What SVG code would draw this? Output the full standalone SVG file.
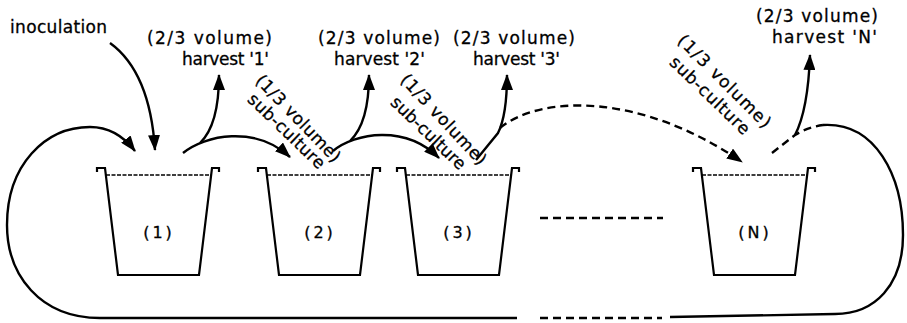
<svg xmlns="http://www.w3.org/2000/svg" width="907" height="323" viewBox="0 0 907 323">
<defs>
<style>
.ln{fill:none;stroke:#000;stroke-width:2.4}
.dash{stroke-dasharray:8 5}
.bk{fill:none;stroke:#000;stroke-width:2.2;stroke-linejoin:miter}
.liq{fill:none;stroke:#000;stroke-width:1.5;stroke-dasharray:4 1.5}
.t{font-family:"DejaVu Sans","Liberation Sans",sans-serif;font-size:17px;fill:#000;stroke:#000;stroke-width:0.3}
.lb{font-family:"DejaVu Sans","Liberation Sans",sans-serif;font-size:16px;fill:#000;stroke:#000;stroke-width:0.3;text-anchor:middle;letter-spacing:3px}
</style>
<marker id="ah" viewBox="0 0 16 12" refX="15" refY="6" markerWidth="16" markerHeight="12" markerUnits="userSpaceOnUse" orient="auto">
<path d="M0,0 L16,6 L0,12 z" fill="#000"/>
</marker>
<g id="beakerShape">
<path class="bk" d="M0,172 L0,168 L8,168 L21,275 L102,275 L115,168 L122,168 L122,172"/>
<path class="liq" d="M9,175 L114,175"/>
</g>
</defs>
<rect width="907" height="323" fill="#fff"/>

<g id="beaker1"><use href="#beakerShape" transform="translate(97,0)"/><text class="lb" x="159" y="238">(1)</text></g>
<g id="beaker2"><use href="#beakerShape" transform="translate(258,0)"/><text class="lb" x="320" y="238">(2)</text></g>
<g id="beaker3"><use href="#beakerShape" transform="translate(397,0)"/><text class="lb" x="459" y="238">(3)</text></g>
<g id="beakerN"><use href="#beakerShape" transform="translate(693,0)"/><text class="lb" x="755" y="238">(N)</text></g>

<g id="connectors">
<path class="ln" d="M517,318 L100,318 C40,318 7,275 7,225 C7,165 45,127 90,127 C110,127 125,138 135,151" marker-end="url(#ah)"/>
<path class="ln" d="M110,43 Q150,72 155,150" marker-end="url(#ah)"/>
<path class="ln" d="M183,153 C205,135 255,125 290,157" marker-end="url(#ah)"/>
<path class="ln" d="M200,143 Q219,125 219,75" marker-end="url(#ah)"/>
<path class="ln" d="M333,151 C355,133 405,124 439,158" marker-end="url(#ah)"/>
<path class="ln" d="M350,141 Q369,123 369,75" marker-end="url(#ah)"/>
<path class="ln" d="M476,160 L498,133 Q507,115 507,75" marker-end="url(#ah)"/>
<path class="ln dash" d="M500,128 C540,95 640,92 742,162" marker-end="url(#ah)"/>
<path class="ln dash" d="M772,153 L795,135 Q808,127 823,125"/>
<path class="ln" d="M795,135 Q808,110 810,55" marker-end="url(#ah)"/>
<path class="ln" d="M823,125 C875,122 903,175 903,235 C903,285 875,314 835,314 L670,317"/>
<path class="ln dash" d="M540,318 L662,318"/>
<path class="ln dash" d="M540,218 L663,218"/>
</g>

<g id="labels">
<text class="t" x="10" y="33" textLength="97" lengthAdjust="spacing">inoculation</text>
<text class="t" x="147" y="44" textLength="125" lengthAdjust="spacing">(2/3 volume)</text>
<text class="t" x="182" y="65" textLength="87" lengthAdjust="spacing">harvest '1'</text>
<text class="t" x="318" y="44" textLength="122" lengthAdjust="spacing">(2/3 volume)</text>
<text class="t" x="334" y="65" textLength="91" lengthAdjust="spacing">harvest '2'</text>
<text class="t" x="453" y="44" textLength="122" lengthAdjust="spacing">(2/3 volume)</text>
<text class="t" x="473" y="65" textLength="87" lengthAdjust="spacing">harvest '3'</text>
<text class="t" x="756" y="22" textLength="122" lengthAdjust="spacing">(2/3 volume)</text>
<text class="t" x="772" y="43" textLength="105" lengthAdjust="spacing">harvest 'N'</text>
<text class="t" transform="translate(254.5,81.5) rotate(46)" textLength="114" lengthAdjust="spacing">(1/3 volume)</text>
<text class="t" transform="translate(246.5,100.5) rotate(44)" textLength="100" lengthAdjust="spacing">sub-culture</text>
<text class="t" transform="translate(399.5,80.5) rotate(47)" textLength="117" lengthAdjust="spacing">(1/3 volume)</text>
<text class="t" transform="translate(389.5,103.5) rotate(44)" textLength="97" lengthAdjust="spacing">sub-culture</text>
<text class="t" transform="translate(676.5,41.5) rotate(45)" textLength="124" lengthAdjust="spacing">(1/3 volume)</text>
<text class="t" transform="translate(668.5,63.5) rotate(44)" textLength="104" lengthAdjust="spacing">sub-culture</text>
</g>
</svg>
